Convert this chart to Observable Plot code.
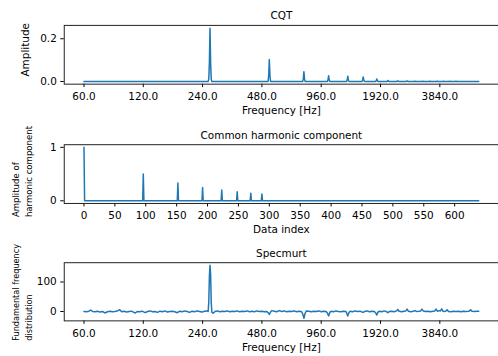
<!DOCTYPE html>
<html>
<head>
<meta charset="utf-8">
<script src="https://cdn.jsdelivr.net/npm/d3@7"></script>
<script src="https://cdn.jsdelivr.net/npm/@observablehq/plot@0.6"></script>
<style>
  html, body { margin: 0; padding: 0; background: white; overflow: hidden; }
  #wrap { width: 498px; height: 356px; overflow: hidden; position: relative; }
  #wrap svg { display: block; }
</style>
</head>
<body>
<div id="wrap"></div>
<script>
// ---- data (CQT bin index: 96 bins per octave starting at 60 Hz, 640 bins) ----
const freqTickBins = [0, 96, 192, 288, 384, 480, 576];
const freqTickLabels = ["60.0", "120.0", "240.0", "480.0", "960.0", "1920.0", "3840.0"];

// CQT amplitude spectrum: [bin, amplitude]
const cqtBins = [0, 201, 202, 203, 204, 205, 206, 207,
  298, 299, 300, 301, 302,
  354, 355, 356, 357, 358,
  394, 395, 396, 397, 398,
  425, 426, 427, 428, 429,
  450, 451, 452, 453, 454,
  472, 473, 474, 475, 476,
  490, 491, 492, 493, 494,
  506, 507, 508, 509, 510,
  521, 523, 525, 534, 536, 538, 546, 548, 550, 558, 560, 562, 570, 572, 574, 580, 582, 584, 590, 592, 594, 600, 602, 604, 639];
const cqtAmp = [0, 0, 0.012, 0.09, 0.249, 0.085, 0.01, 0,
  0, 0.03, 0.103, 0.028, 0,
  0, 0.012, 0.046, 0.011, 0,
  0, 0.008, 0.027, 0.007, 0,
  0, 0.007, 0.025, 0.006, 0,
  0, 0.006, 0.021, 0.005, 0,
  0, 0.003, 0.012, 0.003, 0,
  0, 0.001, 0.005, 0.001, 0,
  0, 0.001, 0.003, 0.001, 0,
  0, 0.002, 0, 0, 0.0015, 0, 0, 0.001, 0, 0, 0.001, 0, 0, 0.001, 0, 0, 0.001, 0, 0, 0.001, 0, 0, 0.001, 0, 0];

// Common harmonic component: [data index, amplitude]
const harmIdx = [0, 1, 95, 96, 97, 151, 152, 153, 191, 192, 193, 222, 223, 224, 247, 248, 249, 269, 270, 271, 287, 288, 289, 639];
const harmAmp = [1, 0, 0, 0.5, 0, 0, 0.333, 0, 0, 0.25, 0, 0, 0.2, 0, 0, 0.167, 0, 0, 0.143, 0, 0, 0.125, 0, 0];
const harmTicks = [0, 50, 100, 150, 200, 250, 300, 350, 400, 450, 500, 550, 600];

// Specmurt (fundamental frequency distribution): [bin, value]
const specBins = [0, 4, 8, 11, 14, 18, 22, 26, 30, 34, 38, 42, 46, 50, 54, 58, 61, 65, 69, 73, 77, 80, 83, 86, 90, 94, 99, 103, 107, 111, 115, 119, 123, 127, 131, 135, 139, 143, 147, 151, 155, 159, 163, 167, 171, 175, 179, 183, 187, 191, 195, 199, 201,
  202, 203, 204, 205, 206, 207, 209, 212, 216, 220, 224, 228, 232, 236, 240, 244, 248, 252, 256, 260, 264, 268, 272, 276, 280, 284, 288, 292, 296, 298, 300, 302, 304, 308, 312, 316, 320, 324, 328, 332, 336, 340, 344, 348, 352, 354, 356, 358, 360, 364, 368, 372, 376, 380, 384, 388, 392, 394, 396, 398, 400, 404, 408, 412, 416, 420, 424, 425, 427, 429, 431, 435, 439, 443, 447, 450, 452, 454, 458, 462, 466, 470, 472, 474, 476, 478, 482, 486, 490, 492, 494, 498, 502, 506, 508, 510, 514, 518, 521, 523, 525, 529, 533, 536, 538, 542, 545, 547, 549, 553, 557, 561, 565, 568, 570, 572, 575, 577, 579, 581, 584, 586, 588, 590, 594, 598, 602, 606, 610, 614, 618, 622, 624, 626, 628, 632, 636, 639];
const specVals = [0, -1, 1, 5, 0, -1, 1, -2, 0, -5, -1, 1, -1, 0, 2, 6, -1, 1, -2, 0, 1, -2, -5, 0, -1, 1, -4, 0, 2, -1, 0, -3, 1, -1, 2, -2, 0, 1, -1, -4, 1, -1, 2, 0, -3, 1, -1, 2, 0, -2, 1, 2, 0,
  30, 120, 156.5, 125, 30, -3, -6, 0, 2, -1, 1, 0, 2, -1, 1, 0, 2, -1, 1, 0, 2, -1, 1, -1, 2, 0, 1, -1, 0, -4, -10, -2, 3, 1, -1, 3, 0, 2, -1, 1, 0, 2, -1, 1, 0, -8, -23, -6, 2, 1, -1, 1, 0, 2, -1, 1, 0, -5, -15, -3, 1, -1, 2, 0, -1, 1, 0, -4, -15, -3, 1, -1, 2, 0, 1, -2, -3, 0, 2, -1, 1, 0, -4, -12, -2, 1, -1, 2, -1, -4, 0, 1, -1, 2, 7, 1, -1, 1, 2, 8, 1, -1, 1, 3, 0, 1, 2, 8, 2, 0, 1, -1, 1, 2, 8, 1, 3, 2, 9, 1, 0, 2, 6, 0, -1, 1, 0, 1, -1, 1, 0, 1, 2, 6, 1, 0, 1, 1];

// ---- build tables ----
const cqt = cqtBins.map((b, i) => ({bin: b, amp: cqtAmp[i]}));
const harm = harmIdx.map((b, i) => ({idx: b, amp: harmAmp[i]}));
const spec = specBins.map((b, i) => ({bin: b, val: specVals[i]}));
const freqLabel = new Map(freqTickBins.map((b, i) => [b, freqTickLabels[i]]));

const BLUE = "#1f77b4";
const FONT = "DejaVu Sans";
const xDomain = [-31.95, 670.95];

function panel({data, x, y, height, marginTop, marginBottom, yDomain, yTicks, yFormat, xTicks, xFormat, title, xlabel, ylabel, ylabelOpts}) {
  return Plot.plot({
    width: 500, height,
    marginLeft: 64, marginRight: 0, marginTop, marginBottom,
    x: {domain: xDomain},
    y: {domain: yDomain},
    style: {fontFamily: FONT, fontSize: "10.5px", color: "black", background: "white"},
    marks: [
      Plot.axisX({ticks: xTicks, tickFormat: xFormat, tickSize: 3.5, tickPadding: 5, label: null, stroke: "black"}),
      Plot.axisY({ticks: yTicks, tickFormat: yFormat, tickSize: 3.5, tickPadding: 4, label: null, stroke: "black"}),
      Plot.line(data, {x, y, stroke: BLUE, strokeWidth: 1.5}),
      Plot.frame({stroke: "#222", strokeWidth: 1}),
      Plot.text([title], {frameAnchor: "top", lineAnchor: "middle", dy: -9.5, fontSize: 10.5, fill: "black"}),
      Plot.text([xlabel], {frameAnchor: "bottom", lineAnchor: "middle", dy: 26.5, fontSize: 10.5, fill: "black"}),
      Plot.text([ylabel], {rotate: -90, fill: "black", lineAnchor: "middle", ...ylabelOpts})
    ]
  });
}

const wrap = document.getElementById("wrap");

wrap.append(panel({
  data: cqt, x: "bin", y: "amp", height: 120, marginTop: 25, marginBottom: 36,
  yDomain: [-0.0125, 0.2625], yTicks: [0, 0.2], yFormat: d3.format(".1f"),
  xTicks: freqTickBins, xFormat: d => freqLabel.get(d),
  title: "CQT", xlabel: "Frequency [Hz]", ylabel: "Amplitude",
  ylabelOpts: {frameAnchor: "left", dx: -39, dy: -5, fontSize: 10.5, textAnchor: "middle"}
}));

wrap.append(panel({
  data: harm, x: "idx", y: "amp", height: 120, marginTop: 24.3, marginBottom: 36.7,
  yDomain: [-0.05, 1.05], yTicks: [0, 1], yFormat: d3.format("d"),
  xTicks: harmTicks, xFormat: d3.format("d"),
  title: "Common harmonic component", xlabel: "Data index", ylabel: "Amplitude of\nharmonic component",
  ylabelOpts: {frameAnchor: "bottom-left", dx: -43, dy: 13.7, fontSize: 8.6, textAnchor: "start", lineHeight: 1.55}
}));

wrap.append(panel({
  data: spec, x: "bin", y: "val", height: 116, marginTop: 23.3, marginBottom: 34.3,
  yDomain: [-31.8, 165.5], yTicks: [0, 100], yFormat: d3.format("d"),
  xTicks: freqTickBins, xFormat: d => freqLabel.get(d),
  title: "Specmurt", xlabel: "Frequency [Hz]", ylabel: "Fundamental frequency\ndistribution",
  ylabelOpts: {frameAnchor: "bottom-left", dx: -43, dy: 20, fontSize: 8.2, textAnchor: "start", lineHeight: 1.6}
}));
</script>
</body>
</html>
